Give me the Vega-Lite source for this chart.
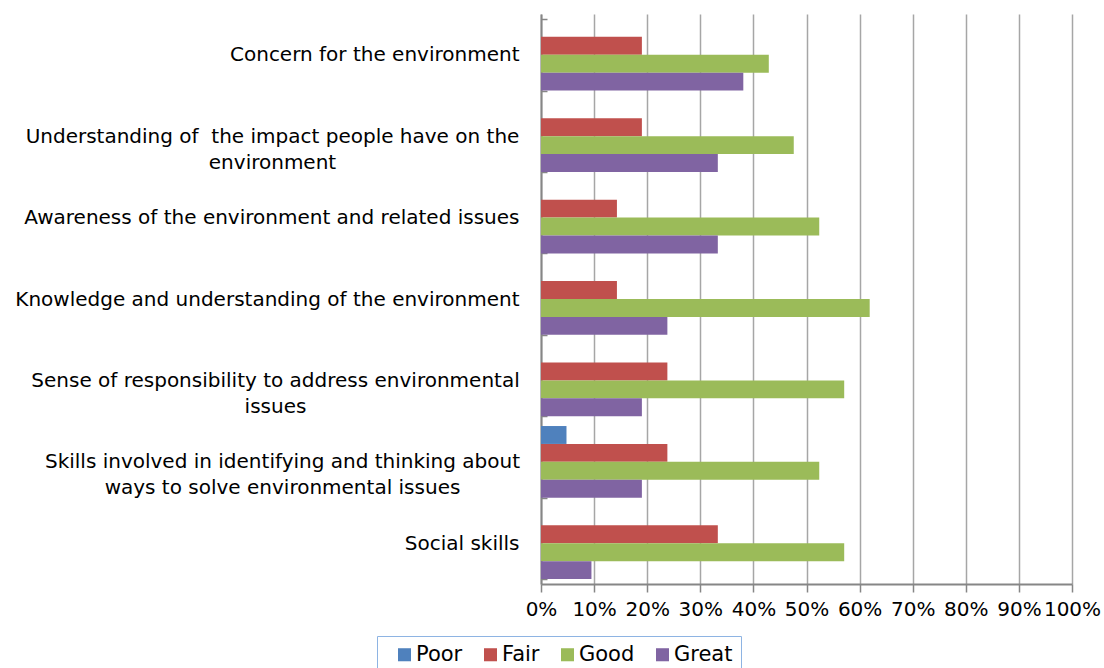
{
  "$schema": "https://vega.github.io/schema/vega-lite/v6.json",
  "width": 531,
  "height": 570,
  "autosize": {"type": "none"},
  "padding": {"left": 541, "top": 14, "right": 32, "bottom": 84},
  "background": "#ffffff",
  "config": {
    "view": {"stroke": null},
    "font": "DejaVu Sans"
  },
  "data": {
    "values": [
      {"item": "Concern for the environment", "rating": "Poor", "pct": 0},
      {"item": "Concern for the environment", "rating": "Fair", "pct": 19.0},
      {"item": "Concern for the environment", "rating": "Good", "pct": 42.9},
      {"item": "Concern for the environment", "rating": "Great", "pct": 38.1},
      {"item": "Understanding of the impact people have on the environment", "rating": "Poor", "pct": 0},
      {"item": "Understanding of the impact people have on the environment", "rating": "Fair", "pct": 19.0},
      {"item": "Understanding of the impact people have on the environment", "rating": "Good", "pct": 47.6},
      {"item": "Understanding of the impact people have on the environment", "rating": "Great", "pct": 33.3},
      {"item": "Awareness of the environment and related issues", "rating": "Poor", "pct": 0},
      {"item": "Awareness of the environment and related issues", "rating": "Fair", "pct": 14.3},
      {"item": "Awareness of the environment and related issues", "rating": "Good", "pct": 52.4},
      {"item": "Awareness of the environment and related issues", "rating": "Great", "pct": 33.3},
      {"item": "Knowledge and understanding of the environment", "rating": "Poor", "pct": 0},
      {"item": "Knowledge and understanding of the environment", "rating": "Fair", "pct": 14.3},
      {"item": "Knowledge and understanding of the environment", "rating": "Good", "pct": 61.9},
      {"item": "Knowledge and understanding of the environment", "rating": "Great", "pct": 23.8},
      {"item": "Sense of responsibility to address environmental issues", "rating": "Poor", "pct": 0},
      {"item": "Sense of responsibility to address environmental issues", "rating": "Fair", "pct": 23.8},
      {"item": "Sense of responsibility to address environmental issues", "rating": "Good", "pct": 57.1},
      {"item": "Sense of responsibility to address environmental issues", "rating": "Great", "pct": 19.0},
      {"item": "Skills involved in identifying and thinking about ways to solve environmental issues", "rating": "Poor", "pct": 4.8},
      {"item": "Skills involved in identifying and thinking about ways to solve environmental issues", "rating": "Fair", "pct": 23.8},
      {"item": "Skills involved in identifying and thinking about ways to solve environmental issues", "rating": "Good", "pct": 52.4},
      {"item": "Skills involved in identifying and thinking about ways to solve environmental issues", "rating": "Great", "pct": 19.0},
      {"item": "Social skills", "rating": "Poor", "pct": 0},
      {"item": "Social skills", "rating": "Fair", "pct": 33.3},
      {"item": "Social skills", "rating": "Good", "pct": 57.1},
      {"item": "Social skills", "rating": "Great", "pct": 9.5}
    ]
  },
  "mark": {"type": "bar"},
  "encoding": {
    "y": {
      "field": "item",
      "type": "nominal",
      "sort": null,
      "scale": {"paddingInner": 0.12, "paddingOuter": 0.06},
      "axis": {
        "title": null,
        "domainColor": "#868686",
        "domainWidth": 2,
        "tickColor": "#868686",
        "tickWidth": 1.5,
        "tickSize": -6,
        "tickBand": "extent",
        "labelFont": "DejaVu Sans",
        "labelFontSize": 20,
        "labelColor": "#000000",
        "labelPadding": 28,
        "labelLineHeight": 26,
        "labelLimit": 600,
        "labelExpr": "datum.value == 'Understanding of the impact people have on the environment' ? ['Understanding of\u00a0 the impact people have on the', 'environment'] : datum.value == 'Sense of responsibility to address environmental issues' ? ['Sense of responsibility to address environmental', 'issues'] : datum.value == 'Skills involved in identifying and thinking about ways to solve environmental issues' ? ['Skills involved in identifying and thinking about', 'ways to solve environmental issues'] : datum.value",
        "encoding": {
          "labels": {
            "align": {
              "condition": {
                "test": "indexof(['Understanding of the impact people have on the environment', 'Sense of responsibility to address environmental issues', 'Skills involved in identifying and thinking about ways to solve environmental issues'], datum.value) >= 0",
                "value": "center"
              },
              "value": "right"
            },
            "dx": {
              "condition": [
                {"test": "datum.value == 'Understanding of the impact people have on the environment'", "value": -247},
                {"test": "datum.value == 'Sense of responsibility to address environmental issues'", "value": -244},
                {"test": "datum.value == 'Skills involved in identifying and thinking about ways to solve environmental issues'", "value": -237}
              ],
              "value": 0
            }
          }
        }
      }
    },
    "yOffset": {
      "field": "rating",
      "type": "nominal",
      "sort": ["Poor", "Fair", "Good", "Great"],
      "scale": {"domain": ["Poor", "Fair", "Good", "Great"], "paddingInner": 0, "paddingOuter": 0}
    },
    "x": {
      "field": "pct",
      "type": "quantitative",
      "scale": {"domain": [0, 100], "nice": false},
      "axis": {
        "title": null,
        "values": [0, 10, 20, 30, 40, 50, 60, 70, 80, 90, 100],
        "labelExpr": "datum.value + '%'",
        "labelFont": "DejaVu Sans",
        "labelFontSize": 20,
        "labelColor": "#000000",
        "labelFlush": false,
        "labelOverlap": false,
        "labelBound": false,
        "labelPadding": 7,
        "domainColor": "#868686",
        "domainWidth": 2,
        "tickColor": "#868686",
        "tickWidth": 1.5,
        "tickSize": 8,
        "grid": true,
        "gridColor": "#a6a6a6",
        "gridWidth": 1.5
      }
    },
    "color": {
      "field": "rating",
      "type": "nominal",
      "sort": ["Poor", "Fair", "Good", "Great"],
      "scale": {
        "domain": ["Poor", "Fair", "Good", "Great"],
        "range": ["#4F81BD", "#C0504D", "#9BBB59", "#8064A2"]
      },
      "legend": {
        "title": null,
        "orient": "none",
        "legendX": -164,
        "legendY": 622,
        "direction": "horizontal",
        "strokeColor": "#8EB4E3",
        "fillColor": "#ffffff",
        "padding": 8,
        "symbolType": "square",
        "symbolSize": 170,
        "symbolStrokeWidth": 0,
        "symbolOffset": 9,
        "labelOffset": 1,
        "labelFont": "DejaVu Sans",
        "labelFontSize": 21,
        "labelColor": "#000000",
        "columnPadding": 8
      }
    }
  }
}
